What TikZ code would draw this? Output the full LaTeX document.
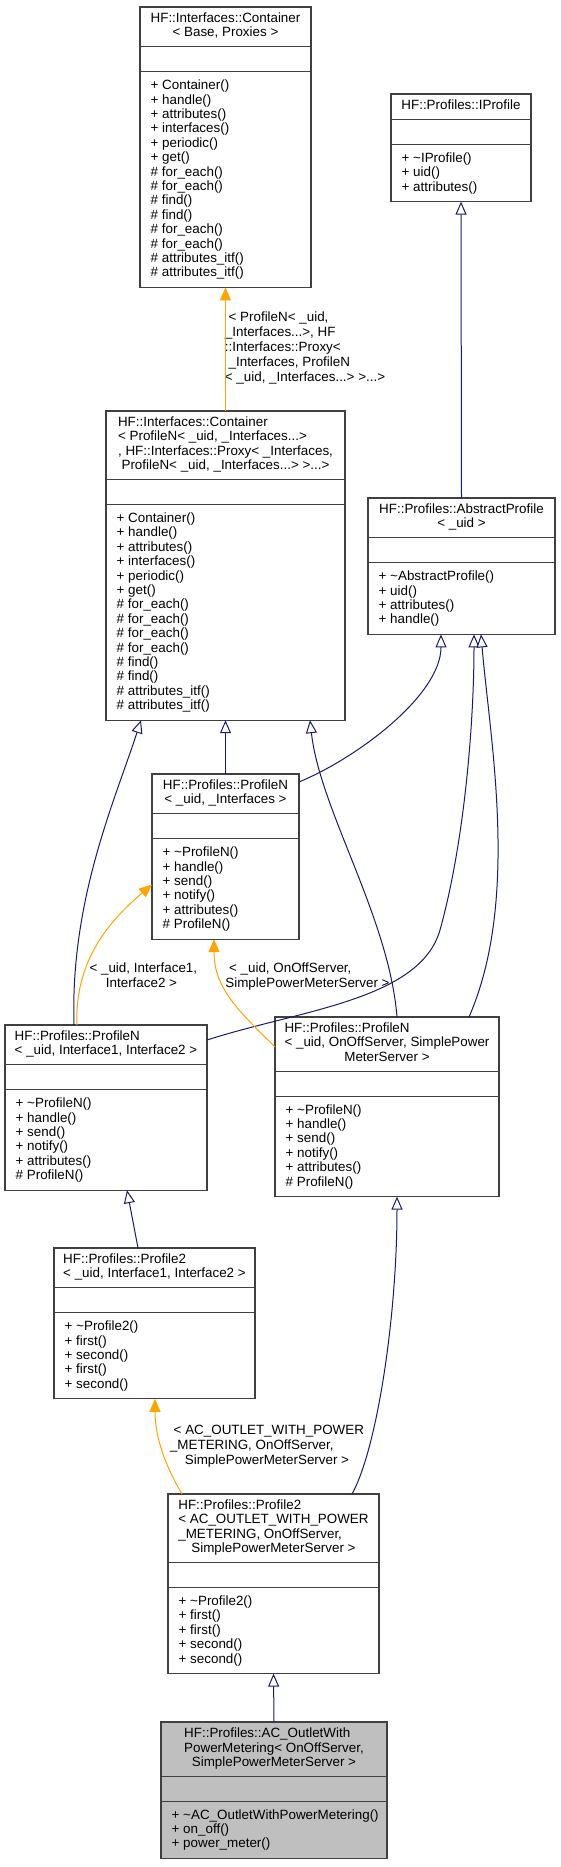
\documentclass[tikz,border=0pt]{standalone}
\usepackage{fontspec}
\setmainfont{Liberation Sans}
\usetikzlibrary{calc, arrows.meta}

% Class box: name, left, top, width, title lines, member lines, title, members, fill
\newcommand{\classbox}[9]{%
    \pgfmathsetmacro{\titleh}{14.4*#5+11}%
    \pgfmathsetmacro{\boxh}{\titleh+25+14.4*#6+14}%
    \node[classframe, fill=#9, minimum width=#4, minimum height=\boxh, anchor=north west] (#1) at (#2,#3) {};
    \draw[classframe] ($(#1.north west)+(0,\titleh)$) -- ($(#1.north east)+(0,\titleh)$);
    \draw[classframe] ($(#1.north west)+(0,\titleh+25)$) -- ($(#1.north east)+(0,\titleh+25)$);
    \node[classtext] (#1-title) at ($(#1.north)+(0,\titleh/2)$) {\begin{tabular}{@{}l@{}}#7\end{tabular}};
    \node[classtext, anchor=north west] (#1-members) at ($(#1.north west)+(10.5,\titleh+25+7.6)$) {\begin{tabular}{@{}l@{}}#8\end{tabular}};
}
\newcommand{\lastline}[1]{\multicolumn{1}{@{}c@{}}{#1}}

\begin{document}
\begin{tikzpicture}[x=1pt, y=-1pt,
    classframe/.style={draw=frameColour, line width=1.1pt, inner sep=0pt, outer sep=0pt},
    classtext/.style={inner sep=0pt, font=\fontsize{13.4}{14.4}\selectfont},
    edgetext/.style={inner sep=0pt, font=\fontsize{13.4}{15}\selectfont},
    inherit/.style={draw=inheritColour, line width=1pt, -{Triangle[length=13pt, width=11pt, fill=white]}},
    template/.style={draw=templateColour, line width=1pt, -{Triangle[length=13pt, width=11pt]}}]
    % Define colors
    \definecolor{frameColour}{HTML}{404040}
    \definecolor{inheritColour}{HTML}{191970}
    \definecolor{templateColour}{HTML}{FFA500}
    \definecolor{classFill}{HTML}{BFBFBF}

    % Fix the page size
    \useasboundingbox (0,0) rectangle (560,1867);

    % Top row
    \classbox{container}{140}{7}{171}{2}{14}
        {HF::Interfaces::Container\\ \lastline{< Base, Proxies >}}
        {+ Container()\\ + handle()\\ + attributes()\\ + interfaces()\\ + periodic()\\ + get()\\
         \# for\_each()\\ \# for\_each()\\ \# find()\\ \# find()\\ \# for\_each()\\ \# for\_each()\\
         \# attributes\_itf()\\ \# attributes\_itf()}{white}
    \classbox{iprofile}{391}{94}{140}{1}{3}
        {HF::Profiles::IProfile}
        {+ \textasciitilde IProfile()\\ + uid()\\ + attributes()}{white}

    % Second row
    \classbox{container2}{106}{411}{239}{4}{14}
        {HF::Interfaces::Container\\ < ProfileN< \_uid, \_Interfaces...>\\
         , HF::Interfaces::Proxy< \_Interfaces,\\ \lastline{ProfileN< \_uid, \_Interfaces...> >...>}}
        {+ Container()\\ + handle()\\ + attributes()\\ + interfaces()\\ + periodic()\\ + get()\\
         \# for\_each()\\ \# for\_each()\\ \# for\_each()\\ \# for\_each()\\ \# find()\\ \# find()\\
         \# attributes\_itf()\\ \# attributes\_itf()}{white}
    \classbox{abstract}{368}{498}{187}{2}{4}
        {HF::Profiles::AbstractProfile\\ \lastline{< \_uid >}}
        {+ \textasciitilde AbstractProfile()\\ + uid()\\ + attributes()\\ + handle()}{white}

    % ProfileN classes
    \classbox{profileNI}{152}{774}{147}{2}{6}
        {HF::Profiles::ProfileN\\ \lastline{< \_uid, \_Interfaces >}}
        {+ \textasciitilde ProfileN()\\ + handle()\\ + send()\\ + notify()\\ + attributes()\\ \# ProfileN()}{white}
    \classbox{profileNII}{5}{1025}{202}{2}{6}
        {HF::Profiles::ProfileN\\ \lastline{< \_uid, Interface1, Interface2 >}}
        {+ \textasciitilde ProfileN()\\ + handle()\\ + send()\\ + notify()\\ + attributes()\\ \# ProfileN()}{white}
    \classbox{profileNOO}{275}{1017}{224}{3}{6}
        {HF::Profiles::ProfileN\\ < \_uid, OnOffServer, SimplePower\\ \lastline{MeterServer >}}
        {+ \textasciitilde ProfileN()\\ + handle()\\ + send()\\ + notify()\\ + attributes()\\ \# ProfileN()}{white}

    % Profile2 classes
    \classbox{profile2I}{54}{1248}{201}{2}{5}
        {HF::Profiles::Profile2\\ \lastline{< \_uid, Interface1, Interface2 >}}
        {+ \textasciitilde Profile2()\\ + first()\\ + second()\\ + first()\\ + second()}{white}
    \classbox{profile2AC}{168}{1494}{211}{4}{5}
        {HF::Profiles::Profile2\\ < AC\_OUTLET\_WITH\_POWER\\ \_METERING, OnOffServer,\\ \lastline{SimplePowerMeterServer >}}
        {+ \textasciitilde Profile2()\\ + first()\\ + first()\\ + second()\\ + second()}{white}

    % The class itself
    \classbox{outlet}{161}{1722}{226}{3}{3}
        {HF::Profiles::AC\_OutletWith\\ PowerMetering< OnOffServer,\\ \lastline{SimplePowerMeterServer >}}
        {+ \textasciitilde AC\_OutletWithPowerMetering()\\ + on\_off()\\ + power\_meter()}{classFill}

    % Template arguments on the orange edges
    \node[edgetext] (lblcontainer) at (305,348) {\begin{tabular}{@{}l@{}}\ < ProfileN< \_uid,\\ \_Interfaces...>, HF\\ ::Interfaces::Proxy<\\ \ \_Interfaces, ProfileN\\ \lastline{< \_uid, \_Interfaces...> >...>}\end{tabular}};
    \node[edgetext] (lblinterface) at (141.5,976.5) {\begin{tabular}{@{}l@{}}\ < \_uid, Interface1,\\ \lastline{Interface2 >}\end{tabular}};
    \node[edgetext] (lblonoff) at (307.5,976.5) {\begin{tabular}{@{}l@{}}\ < \_uid, OnOffServer,\\ \lastline{SimplePowerMeterServer >}\end{tabular}};
    \node[edgetext] (lbloutlet) at (267,1446) {\begin{tabular}{@{}l@{}}\ < AC\_OUTLET\_WITH\_POWER\\ \_METERING, OnOffServer,\\ \lastline{SimplePowerMeterServer >}\end{tabular}};

    % Straight edges
    \draw[template] (container2.north) -- (container.south);
    \draw[inherit] (abstract.north) -- (iprofile.south);
    \draw[inherit] (profileNI.north) -- (container2.south);
    \draw[inherit] ($(profile2I.north west)+(84,0)$) -- ($(profileNII.south west)+(122,0)$);
    \draw[inherit] (outlet.north) -- (profile2AC.south);

    % Curved edges
    \draw[inherit] ($(profileNI.north east)+(0,8)$) .. controls +(60,-25) and +(0,60) .. ($(abstract.south west)+(73,0)$);
    \draw[inherit] ($(profileNII.north west)+(69,0)$) .. controls +(-4,-125) and +(-26,80) .. ($(container2.south west)+(35,0)$);
    \draw[template] ($(profileNII.north west)+(72,0)$) .. controls +(-3,-70) and +(-35,30) .. ($(profileNI.west)+(0,28)$);
    \draw[inherit] ($(profileNII.north east)+(0,15)$) .. controls +(93,-30) and (420,1000) .. (440,930)
        .. controls (465,840) and (474,720) .. ($(abstract.south west)+(106,0)$);
    \draw[inherit] ($(profileNOO.north west)+(122,0)$) .. controls +(-8,-100) and +(10,90) .. ($(container2.south east)+(-35,0)$);
    \draw[inherit] ($(profileNOO.north west)+(194,0)$) .. controls +(51,-117) and +(9,106) .. ($(abstract.south west)+(113,0)$);
    \draw[template] ($(profileNOO.north west)+(0,30)$) .. controls +(-35,-35) and +(0,50) .. ($(profileNI.south west)+(62,0)$);
    \draw[template] ($(profile2AC.north west)+(14,0)$) .. controls +(-15,-25) and +(0,40) .. ($(profile2I.south west)+(101,0)$);
    \draw[inherit] ($(profile2AC.north west)+(184,0)$) .. controls +(25,-45) and +(0,120) .. ($(profileNOO.south west)+(122,0)$);

\end{tikzpicture}
\end{document}
